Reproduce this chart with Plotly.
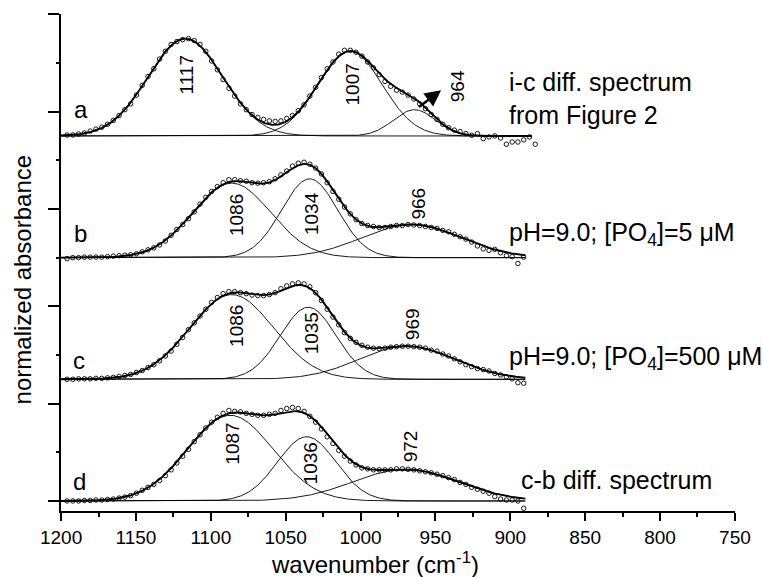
import numpy as np
import plotly.graph_objects as go

# ------------------------------------------------------------------ data
x_ticks = [1200, 1150, 1100, 1050, 1000, 950, 900, 850, 800, 750]
y_ticks = [0, 1, 2, 3, 4, 5]

spectrum_names = ["a", "b", "c", "d"]
spectrum_notes = [
    "i-c diff. spectrum<br>from Figure 2",
    "pH=9.0; [PO<sub>4</sub>]=5 \u03bcM",
    "pH=9.0; [PO<sub>4</sub>]=500 \u03bcM",
    "c-b diff. spectrum",
]

# fitted Gaussian bands: centre (cm-1), height (normalized), sigma (cm-1)
centers_a = [1117, 1007, 964]
heights_a = [1.00, 0.87, 0.27]
sigmas_a = [25.0, 21.5, 14.0]
labels_a = ["1117", "1007", "964"]

centers_b = [1086, 1034, 966]
heights_b = [0.765, 0.81, 0.34]
sigmas_b = [26.0, 18.7, 33.0]
labels_b = ["1086", "1034", "966"]

centers_c = [1086, 1035, 969]
heights_c = [0.87, 0.74, 0.34]
sigmas_c = [28.0, 18.7, 32.0]
labels_c = ["1086", "1035", "969"]

centers_d = [1087, 1036, 970]
heights_d = [0.88, 0.66, 0.325]
sigmas_d = [28.5, 19.5, 35.0]
labels_d = ["1087", "1036", "972"]

# measured points (open circles), first point at 1196 cm-1, spacing 3.86 cm-1
circle_start = 1196.0
circle_step = 3.86
circles_a = [0.01, 0.01, 0.02, 0.03, 0.05, 0.07, 0.09, 0.12, 0.16, 0.21,
             0.27, 0.33, 0.42, 0.52, 0.61, 0.69, 0.79, 0.87, 0.94, 0.97,
             0.99, 1.00, 0.98, 0.94, 0.87, 0.77, 0.68, 0.58, 0.49, 0.41,
             0.33, 0.27, 0.22, 0.19, 0.17, 0.155, 0.15, 0.155, 0.18, 0.21,
             0.26, 0.32, 0.41, 0.50, 0.60, 0.69, 0.76, 0.84, 0.88, 0.88,
             0.86, 0.82, 0.76, 0.70, 0.63, 0.56, 0.51, 0.47, 0.45, 0.42,
             0.38, 0.33, 0.28, 0.22, 0.17, 0.12, 0.085, 0.06, 0.045, 0.025,
             0.007, 0.024, -0.027, -0.01, 0.0, -0.021, -0.085, -0.062, -0.062, -0.04,
             -0.01, -0.085]
circles_b = [-0.01, 0.0, 0.0, 0.005, 0.005, 0.005, 0.005, 0.01, 0.015, 0.02,
             0.025, 0.03, 0.04, 0.06, 0.08, 0.10, 0.13, 0.17, 0.23, 0.29,
             0.34, 0.40, 0.47, 0.55, 0.62, 0.68, 0.73, 0.77, 0.80, 0.80,
             0.79, 0.785, 0.77, 0.765, 0.77, 0.78, 0.81, 0.85, 0.89, 0.94,
             0.97, 0.98, 0.96, 0.92, 0.86, 0.77, 0.68, 0.60, 0.52, 0.45,
             0.39, 0.35, 0.33, 0.32, 0.31, 0.31, 0.32, 0.33, 0.33, 0.34,
             0.335, 0.33, 0.32, 0.31, 0.30, 0.28, 0.265, 0.24, 0.215, 0.19,
             0.16, 0.12, 0.09, 0.075, 0.085, 0.05, 0.02, 0.01, -0.06, 0.005]
circles_c = [0.0, 0.0, 0.005, 0.005, 0.005, 0.01, 0.01, 0.015, 0.02, 0.03,
             0.04, 0.05, 0.07, 0.09, 0.12, 0.15, 0.19, 0.24, 0.29, 0.36,
             0.43, 0.51, 0.58, 0.65, 0.72, 0.79, 0.84, 0.88, 0.90, 0.90,
             0.89, 0.88, 0.865, 0.86, 0.86, 0.87, 0.89, 0.93, 0.96, 0.98,
             0.99, 0.98, 0.95, 0.89, 0.81, 0.72, 0.64, 0.56, 0.48, 0.42,
             0.38, 0.35, 0.33, 0.32, 0.315, 0.32, 0.33, 0.335, 0.34, 0.34,
             0.335, 0.33, 0.32, 0.30, 0.29, 0.26, 0.24, 0.21, 0.18, 0.15,
             0.13, 0.11, 0.10, 0.085, 0.06, 0.045, 0.025, 0.005, -0.035, -0.04]
circles_d = [0.0, 0.0, 0.0, 0.005, 0.005, 0.01, 0.01, 0.015, 0.02, 0.03,
             0.04, 0.055, 0.08, 0.11, 0.14, 0.17, 0.21, 0.26, 0.32, 0.39,
             0.46, 0.53, 0.61, 0.68, 0.75, 0.81, 0.86, 0.90, 0.93, 0.92,
             0.915, 0.90, 0.89, 0.88, 0.88, 0.89, 0.90, 0.93, 0.95, 0.96,
             0.95, 0.92, 0.87, 0.81, 0.74, 0.66, 0.59, 0.52, 0.46, 0.41,
             0.37, 0.34, 0.33, 0.32, 0.32, 0.32, 0.32, 0.33, 0.33, 0.325,
             0.32, 0.31, 0.30, 0.29, 0.275, 0.26, 0.24, 0.22, 0.19, 0.17,
             0.14, 0.12, 0.10, 0.08, 0.045, 0.02, 0.01, 0.01, 0.0, -0.075]

# low-wavenumber end of each fitted trace (cm-1)
fit_end = [885.5, 890.0, 890.0, 890.0]

# ------------------------------------------------------------------ layout helpers
offsets = [3.75, 2.5, 1.25, 0.0]          # vertical stacking of the spectra
letter_pos = [(1192.6, 4.017), (1192.6, 2.744), (1193.4, 1.44), (1193.4, 0.198)]
note_pos = [(902.0, 4.139), (902.5, 2.745), (902.5, 1.472), (894.5, 0.219)]
peak_label_pos = [
    [(1116.4, 4.374), (1005.6, 4.281), (935.6, 4.261)],
    [(1083.3, 2.936), (1032.7, 2.954), (961.6, 3.056)],
    [(1083.3, 1.797), (1032.7, 1.718), (965.3, 1.812)],
    [(1086.1, 0.585), (1033.7, 0.387), (966.6, 0.557)],
]

FONT = "Liberation Sans, Arial, Helvetica, sans-serif"

bands = [
    (centers_a, heights_a, sigmas_a, labels_a, circles_a),
    (centers_b, heights_b, sigmas_b, labels_b, circles_b),
    (centers_c, heights_c, sigmas_c, labels_c, circles_c),
    (centers_d, heights_d, sigmas_d, labels_d, circles_d),
]

fig = go.Figure()
annotations = []

for k, (cen, hts, sig, labs, circ) in enumerate(bands):
    off = offsets[k]
    xs = np.linspace(1200, fit_end[k], 600)
    comps = [h * np.exp(-0.5 * ((xs - c) / s) ** 2) for c, h, s in zip(cen, hts, sig)]
    for comp in comps:
        fig.add_trace(go.Scatter(x=xs, y=comp + off, mode="lines",
                                 line=dict(color="black", width=0.9),
                                 hoverinfo="skip", showlegend=False))
    fig.add_trace(go.Scatter(x=xs, y=np.sum(comps, axis=0) + off, mode="lines",
                             line=dict(color="black", width=1.9),
                             hoverinfo="skip", showlegend=False))
    cx = circle_start - circle_step * np.arange(len(circ))
    fig.add_trace(go.Scatter(x=cx, y=np.array(circ) + off, mode="markers",
                             marker=dict(symbol="circle-open", size=4.5, color="black",
                                         line=dict(width=0.9, color="black")),
                             showlegend=False))
    # panel letter
    annotations.append(dict(x=letter_pos[k][0], y=letter_pos[k][1], xref="x", yref="y",
                            text=spectrum_names[k], showarrow=False, xanchor="left",
                            yanchor="middle", font=dict(size=24, family=FONT, color="black")))
    # right-hand note
    annotations.append(dict(x=note_pos[k][0], y=note_pos[k][1], xref="x", yref="y",
                            text=spectrum_notes[k], showarrow=False, xanchor="left",
                            yanchor="middle", align="left",
                            font=dict(size=25, family=FONT, color="black")))
    # band labels
    for (lx, ly), lab in zip(peak_label_pos[k], labs):
        annotations.append(dict(x=lx, y=ly, xref="x", yref="y", text=lab, showarrow=False,
                                textangle=-90, xanchor="center", yanchor="middle",
                                font=dict(size=19, family=FONT, color="black")))

# arrow pointing to the 964 band label
annotations.append(dict(x=946.2, y=4.22, ax=962.0, ay=4.035, xref="x", yref="y",
                        axref="x", ayref="y", text="", showarrow=True, arrowhead=2,
                        arrowsize=1.3, arrowwidth=2.5, arrowcolor="black", standoff=0))

# axis titles
annotations.append(dict(x=(378 - 61) / 680.7, y=-(563 - 511) / 497, xref="paper", yref="paper",
                        text="wavenumber (cm<sup>-1</sup>)", showarrow=False,
                        xanchor="center", yanchor="middle",
                        font=dict(size=24, family=FONT, color="black")))
annotations.append(dict(x=(22 - 61) / 680.7, y=(511 - 280) / 497, xref="paper", yref="paper",
                        text="normalized absorbance", showarrow=False, textangle=-90,
                        xanchor="center", yanchor="middle",
                        font=dict(size=24, family=FONT, color="black")))

fig.update_layout(
    width=763, height=577,
    margin=dict(l=61, r=21, t=14, b=66),
    paper_bgcolor="white", plot_bgcolor="white",
    showlegend=False,
    font=dict(family=FONT, color="black"),
    annotations=annotations,
)

fig.update_xaxes(
    range=[1200.05, 749.95], tickmode="array", tickvals=x_ticks,
    ticktext=[str(t) for t in x_ticks],
    ticks="outside", ticklen=8, tickwidth=1.5, tickcolor="black",
    showline=True, linewidth=2, linecolor="black",
    showgrid=False, zeroline=False,
    tickfont=dict(size=19, family=FONT, color="black"),
    minor=dict(ticks="outside", ticklen=4, tickwidth=1.5, tickcolor="black",
               tickvals=[t - 25 for t in x_ticks[:-1]], showgrid=False),
)
fig.update_yaxes(
    range=[-0.103, 5.003], tickmode="array", tickvals=y_ticks,
    showticklabels=False,
    ticks="outside", ticklen=11, tickwidth=1.5, tickcolor="black",
    showline=True, linewidth=2, linecolor="black",
    showgrid=False, zeroline=False,
    minor=dict(ticks="outside", ticklen=3, tickwidth=1.5, tickcolor="black",
               tickvals=[t + 0.5 for t in y_ticks[:-1]], showgrid=False),
)

fig.write_html("out.html")
